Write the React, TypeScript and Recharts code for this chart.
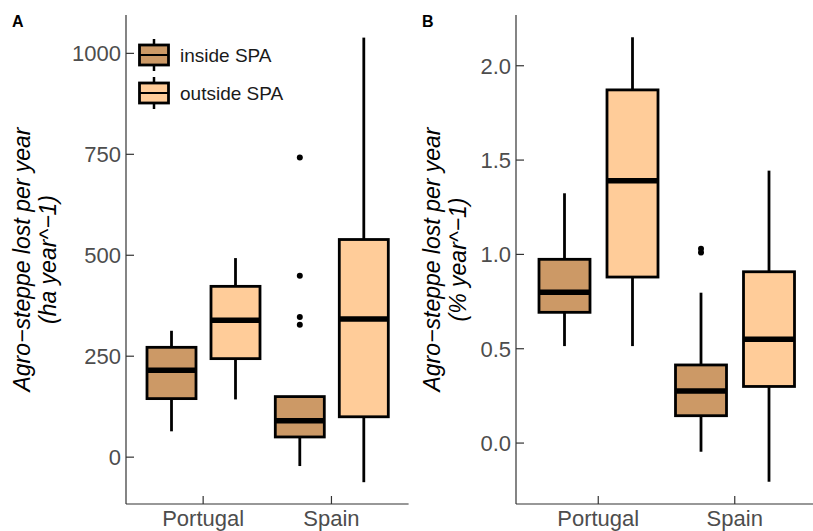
import React from "react";
import { ComposedChart, Bar, XAxis, YAxis, Legend } from "recharts";

// values: [min, q1, median, q3, max]
const countries = ["Portugal", "Spain"];

const haInside = [
  [64, 145, 215, 272, 313],
  [-22, 50, 90, 150, 150],
];
const haOutside = [
  [143, 244, 339, 423, 493],
  [-62, 100, 342, 539, 1039],
];
const haInsideOutliers = [[], [742, 449, 347, 328]];
const haOutsideOutliers = [[], []];

const pctInside = [
  [0.514, 0.693, 0.8, 0.974, 1.324],
  [-0.046, 0.145, 0.276, 0.414, 0.797],
];
const pctOutside = [
  [0.514, 0.88, 1.391, 1.872, 2.151],
  [-0.205, 0.3, 0.55, 0.908, 1.444],
];
const pctInsideOutliers = [[], [1.01, 1.03]];
const pctOutsideOutliers = [[], []];

const haTicks = [0, 250, 500, 750, 1000];
const pctTicks = [0, 0.5, 1, 1.5, 2];

const INSIDE = "#CC9966";
const OUTSIDE = "#FFCC99";
const FONT = "'Liberation Sans', Arial, sans-serif";
const AXIS = "#333333";
const TICK = "#4D4D4D";

const buildRows = (
  inside: number[][],
  outside: number[][],
  insideOut: number[][],
  outsideOut: number[][]
) =>
  countries.map((c, i) => ({
    country: c,
    inside: inside[i],
    outside: outside[i],
    insideOut: insideOut[i],
    outsideOut: outsideOut[i],
  }));

const haRows = buildRows(haInside, haOutside, haInsideOutliers, haOutsideOutliers);
const pctRows = buildRows(pctInside, pctOutside, pctInsideOutliers, pctOutsideOutliers);

// the bar spans min..max; inner positions follow the same linear y scale
const boxShape = (key: string, outKey: string, fill: string) => (p: any) => {
  const { x, y, width, height, payload } = p;
  const s: number[] = payload[key];
  const lo = s[0];
  const hi = s[4];
  const py = (v: number) => (hi === lo ? y : y + (height * (hi - v)) / (hi - lo));
  const cx = x + width / 2;
  return (
    <g>
      <line x1={cx} x2={cx} y1={py(s[4])} y2={py(s[3])} stroke="#000" strokeWidth={2.8} />
      <line x1={cx} x2={cx} y1={py(s[1])} y2={py(s[0])} stroke="#000" strokeWidth={2.8} />
      <rect
        x={x}
        y={py(s[3])}
        width={width}
        height={py(s[1]) - py(s[3])}
        fill={fill}
        stroke="#000"
        strokeWidth={2.8}
      />
      <line x1={x} x2={x + width} y1={py(s[2])} y2={py(s[2])} stroke="#000" strokeWidth={5.5} />
      {(payload[outKey] as number[]).map((v, i) => (
        <circle key={i} cx={cx} cy={py(v)} r={3} fill="#000" />
      ))}
    </g>
  );
};

const yTitle = (letter: string, unit: string) => (props: any) => {
  const vb = props.viewBox || {};
  const cy = (vb.y ?? 15) + (vb.height ?? 489) / 2;
  return (
    <g>
      <text x={12} y={27} fontFamily={FONT} fontWeight="bold" fontSize={16} fill="#000">
        {letter}
      </text>
      <text
        x={30}
        y={cy}
        transform={`rotate(-90, 30, ${cy})`}
        textAnchor="middle"
        fontFamily={FONT}
        fontStyle="italic"
        fontSize={23}
        fill="#000"
      >
        Agro−steppe lost per year
      </text>
      <text
        x={56}
        y={cy}
        transform={`rotate(-90, 56, ${cy})`}
        textAnchor="middle"
        fontFamily={FONT}
        fontStyle="italic"
        fontSize={23}
        fill="#000"
      >
        {unit}
      </text>
    </g>
  );
};

const legendContent = (props: any) => {
  const items = props.payload || [];
  return (
    <svg width={170} height={80} style={{ display: "block" }}>
      {items.map((e: any, i: number) => {
        const cy = 19 + i * 38;
        const fill = e.value === "inside SPA" ? INSIDE : OUTSIDE;
        return (
          <g key={i}>
            <line x1={17} x2={17} y1={cy - 16} y2={cy + 16} stroke="#000" strokeWidth={2.5} />
            <rect x={2.5} y={cy - 10} width={29} height={20} fill={fill} stroke="#000" strokeWidth={2.8} />
            <line x1={2.5} x2={31.5} y1={cy} y2={cy} stroke="#000" strokeWidth={2} />
            <text x={43} y={cy + 7} fontFamily={FONT} fontSize={19} fill="#1a1a1a">
              {e.value}
            </text>
          </g>
        );
      })}
    </svg>
  );
};

interface PanelProps {
  rows: any[];
  width: number;
  yWidth: number;
  domain: [number, number];
  ticks: number[];
  fmt: (v: number) => string;
  pad: { left: number; right: number };
  barSize: number;
  barGap: number;
  rightMargin: number;
  letter: string;
  unit: string;
  legend?: boolean;
}

function Panel(p: PanelProps) {
  return (
    <ComposedChart
      width={p.width}
      height={531}
      data={p.rows}
      margin={{ top: 15, right: p.rightMargin, bottom: 0, left: 0 }}
      barGap={p.barGap}
    >
      <XAxis
        dataKey="country"
        height={27}
        padding={p.pad}
        axisLine={{ stroke: AXIS, strokeWidth: 1.2 }}
        tickLine={{ stroke: AXIS, strokeWidth: 1.2 }}
        tickSize={-8}
        tickMargin={14}
        tick={{ fill: TICK, fontSize: 22, fontFamily: FONT }}
      />
      <YAxis
        width={p.yWidth}
        domain={p.domain}
        allowDataOverflow
        ticks={p.ticks}
        tickFormatter={p.fmt}
        axisLine={{ stroke: AXIS, strokeWidth: 1.2 }}
        tickLine={{ stroke: AXIS, strokeWidth: 1.2 }}
        tickSize={-8}
        tickMargin={13}
        tick={{ fill: TICK, fontSize: 22, fontFamily: FONT }}
        label={{ content: yTitle(p.letter, p.unit) }}
      />
      {p.legend && (
        <Legend
          layout="vertical"
          align="center"
          verticalAlign="middle"
          wrapperStyle={{ left: 137, top: 35.5, width: 170 }}
          content={legendContent}
        />
      )}
      <Bar
        name="inside SPA"
        dataKey={(d: any) => [d.inside[0], d.inside[4]]}
        fill={INSIDE}
        barSize={p.barSize}
        shape={boxShape("inside", "insideOut", INSIDE)}
        isAnimationActive={false}
      />
      <Bar
        name="outside SPA"
        dataKey={(d: any) => [d.outside[0], d.outside[4]]}
        fill={OUTSIDE}
        barSize={p.barSize}
        shape={boxShape("outside", "outsideOut", OUTSIDE)}
        isAnimationActive={false}
      />
    </ComposedChart>
  );
}

export default function App() {
  return (
    <div
      style={{
        position: "absolute",
        left: 0,
        top: 0,
        width: 813,
        height: 531,
        background: "#fff",
        display: "flex",
        overflow: "hidden",
      }}
    >
      <Panel
        rows={haRows}
        width={410}
        yWidth={126}
        domain={[-116, 1095]}
        ticks={haTicks}
        fmt={(v) => String(v)}
        pad={{ left: 13, right: 13 }}
        barSize={49}
        barGap={15}
        rightMargin={1.4}
        letter="A"
        unit="(ha year^−1)"
        legend
      />
      <Panel
        rows={pctRows}
        width={403}
        yWidth={106}
        domain={[-0.323, 2.269]}
        ticks={pctTicks}
        fmt={(v) => v.toFixed(1)}
        pad={{ left: 14, right: 10 }}
        barSize={51}
        barGap={17}
        rightMargin={0}
        letter="B"
        unit="(% year^−1)"
      />
    </div>
  );
}
